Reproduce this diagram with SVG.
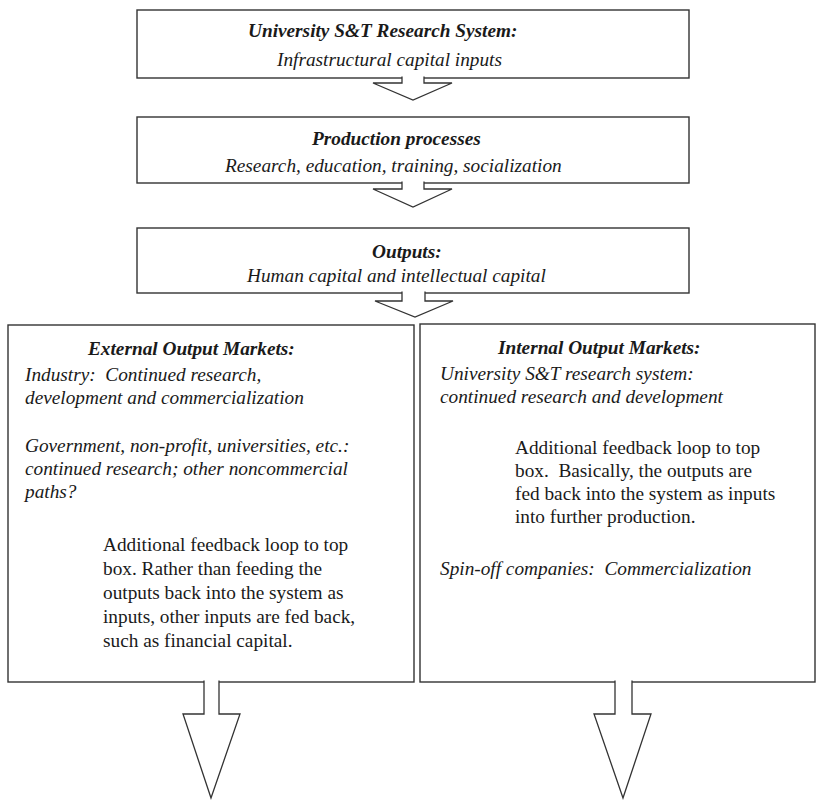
<svg xmlns="http://www.w3.org/2000/svg" width="819" height="800" viewBox="0 0 819 800">
  <style>
    .box { fill: #ffffff; stroke: #333333; stroke-width: 1.4; }
    .arrow { fill: #ffffff; stroke: #333333; stroke-width: 1.3; stroke-linejoin: miter; }
    .t { font-family: 'Liberation Serif', 'DejaVu Serif', 'Times New Roman', serif; font-size: 19.3px; fill: #1a1a1a; white-space: pre; }
    .head { font-weight: bold; font-style: italic; }
    .it { font-style: italic; }
  </style>
  <rect width="819" height="800" fill="#ffffff"/>

  <g id="node-inputs">
    <rect class="box" x="137" y="10" width="552" height="68"/>
    <text class="t head" x="248" y="37">University S&amp;T Research System:</text>
    <text class="t it" x="277" y="66">Infrastructural capital inputs</text>
  </g>

  <g id="node-production">
    <rect class="box" x="137" y="117" width="552" height="66"/>
    <text class="t head" x="312" y="145">Production processes</text>
    <text class="t it" x="225" y="172">Research, education, training, socialization</text>
  </g>

  <g id="node-outputs">
    <rect class="box" x="137" y="228" width="552" height="65"/>
    <text class="t head" x="372" y="258">Outputs:</text>
    <text class="t it" x="247" y="282">Human capital and intellectual capital</text>
  </g>

  <g id="node-external">
    <rect class="box" x="8" y="325" width="406" height="357"/>
    <text class="t head" x="88" y="355">External Output Markets:</text>
    <text class="t it" x="25" y="381">Industry:  Continued research,</text>
    <text class="t it" x="25" y="404">development and commercialization</text>
    <text class="t it" x="25" y="452">Government, non-profit, universities, etc.:</text>
    <text class="t it" x="25" y="475">continued research; other noncommercial</text>
    <text class="t it" x="25" y="498">paths?</text>
    <text class="t" x="103" y="551">Additional feedback loop to top</text>
    <text class="t" x="103" y="575">box. Rather than feeding the</text>
    <text class="t" x="103" y="599">outputs back into the system as</text>
    <text class="t" x="103" y="623">inputs, other inputs are fed back,</text>
    <text class="t" x="103" y="647">such as financial capital.</text>
  </g>

  <g id="node-internal">
    <rect class="box" x="420" y="324" width="395" height="358"/>
    <text class="t head" x="498" y="354">Internal Output Markets:</text>
    <text class="t it" x="440" y="380">University S&amp;T research system:</text>
    <text class="t it" x="440" y="403">continued research and development</text>
    <text class="t" x="515" y="454">Additional feedback loop to top</text>
    <text class="t" x="515" y="477">box.  Basically, the outputs are</text>
    <text class="t" x="515" y="500">fed back into the system as inputs</text>
    <text class="t" x="515" y="523">into further production.</text>
    <text class="t it" x="440" y="575">Spin-off companies:  Commercialization</text>
  </g>

  <!-- block arrows; open at the top so they merge with the box above -->
  <g id="connectors">
    <path class="arrow" d="M402,76.5 V83 H373 L413,100 L452,83 H424 V76.5"/>
    <path class="arrow" d="M402,181.5 V189 H373 L413,207 L452,189 H424 V181.5"/>
    <path class="arrow" d="M402,291.5 V301 H375 L415,317 L453,301 H425 V291.5"/>
    <path class="arrow" d="M204,680.5 V714 H183 L211,798 L240,714 H219 V680.5"/>
    <path class="arrow" d="M615,680.5 V714 H594 L623,798 L651,714 H632 V680.5"/>
  </g>
</svg>
